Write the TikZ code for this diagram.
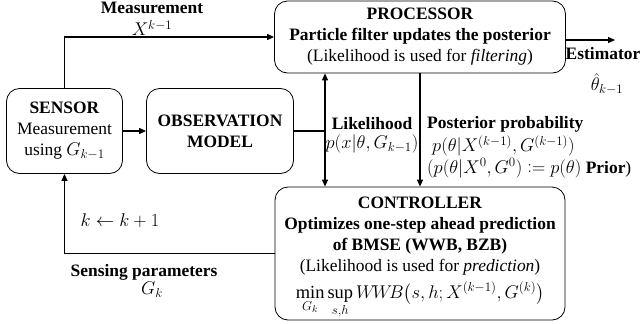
\documentclass[tikz,border=0pt]{standalone}
\usepackage{fix-cm}
\usepackage{amsmath}
\usepackage{fontspec}
\setmainfont{Liberation Serif}
\usetikzlibrary{arrows.meta}
\DeclareMathSizes{17.5}{18.5}{13}{10}
\newcommand{\myassign}{\mathrel{\mathop:}=}
\begin{document}
\begin{tikzpicture}[x=1bp,y=-1bp,
  box/.style={draw, line width=0.8bp, rounded corners=13bp, align=center, inner sep=0pt,
    font=\fontsize{17.5}{21}\selectfont},
  arr/.style={-{Triangle[length=7bp,width=6bp]}, line width=1.1bp},
  ln/.style={line width=1.1bp},
  lbl/.style={align=center, inner sep=0pt, font=\fontsize{17.5}{21}\selectfont}]
\useasboundingbox (0,0) rectangle (642,323);
\node[box, minimum width=291bp, minimum height=72bp] (proc) at (420,37)
  {\textbf{PROCESSOR}\\ \textbf{Particle filter updates the posterior}\\ (Likelihood is used for \textit{filtering})};
\node[box, minimum width=116bp, minimum height=85bp] (sensor) at (64.5,131)
  {\textbf{SENSOR}\\ Measurement\\ using $G_{k-1}$};
\node[box, minimum width=147bp, minimum height=85bp] (obs) at (220,131)
  {\textbf{OBSERVATION}\\ \textbf{MODEL}};
\node[box, minimum width=290bp, minimum height=133bp] (ctrl) at (420,253.5)
  {\textbf{CONTROLLER}\\ \textbf{Optimizes one-step ahead prediction}\\ \textbf{of BMSE (WWB, BZB)}\\
   (Likelihood is used for \textit{prediction})\\[5bp]
   $\displaystyle\min_{G_k}\sup_{s,h} W\!W\!B\big(s,h;X^{(k-1)},G^{(k)}\big)$\\[-10bp]\mbox{}};
\coordinate (J) at (325,131);
\coordinate (est) at (615,40);
\draw[arr] (sensor.north) |- (proc.west);
\draw[arr] (sensor.east) -- (obs.west);
\draw[ln] (obs.east) -- (J);
\draw[arr] (J) -- (J |- proc.south);
\draw[arr] (J) -- (J |- ctrl.north);
\draw[arr] (proc.south) -- (ctrl.north);
\draw[arr] (proc.east |- est) -- (est);
\draw[arr] (ctrl.west) -| (sensor.south);
\node[lbl] (mlab) at (152,8) {\textbf{Measurement}};
\node[lbl] (mx) at (152,28) {$X^{k-1}$};
\node[lbl] (elab) at (603,54) {\textbf{Estimator}};
\node[lbl] (eth) at (607,84) {$\hat{\theta}_{k-1}$};
\node[lbl] (llab) at (372,124) {\textbf{Likelihood}};
\node[lbl] (lp) at (372,144) {$p(x|\theta,G_{k-1})$};
\node[lbl, anchor=west] (plab) at (427,124) {\textbf{Posterior probability}};
\node[lbl, anchor=west] (pp) at (432,146) {$p(\theta|X^{(k-1)},G^{(k-1)})$};
\node[lbl, anchor=west] (pr) at (427,168) {$(p(\theta|X^0,G^0)\myassign p(\theta)$ \textbf{Prior})};
\node[lbl] (kk) at (120,221) {$k\leftarrow k+1$};
\node[lbl] (slab) at (144,272) {\textbf{Sensing parameters}};
\node[lbl] (sg) at (152,290) {$G_k$};
\end{tikzpicture}
\end{document}
